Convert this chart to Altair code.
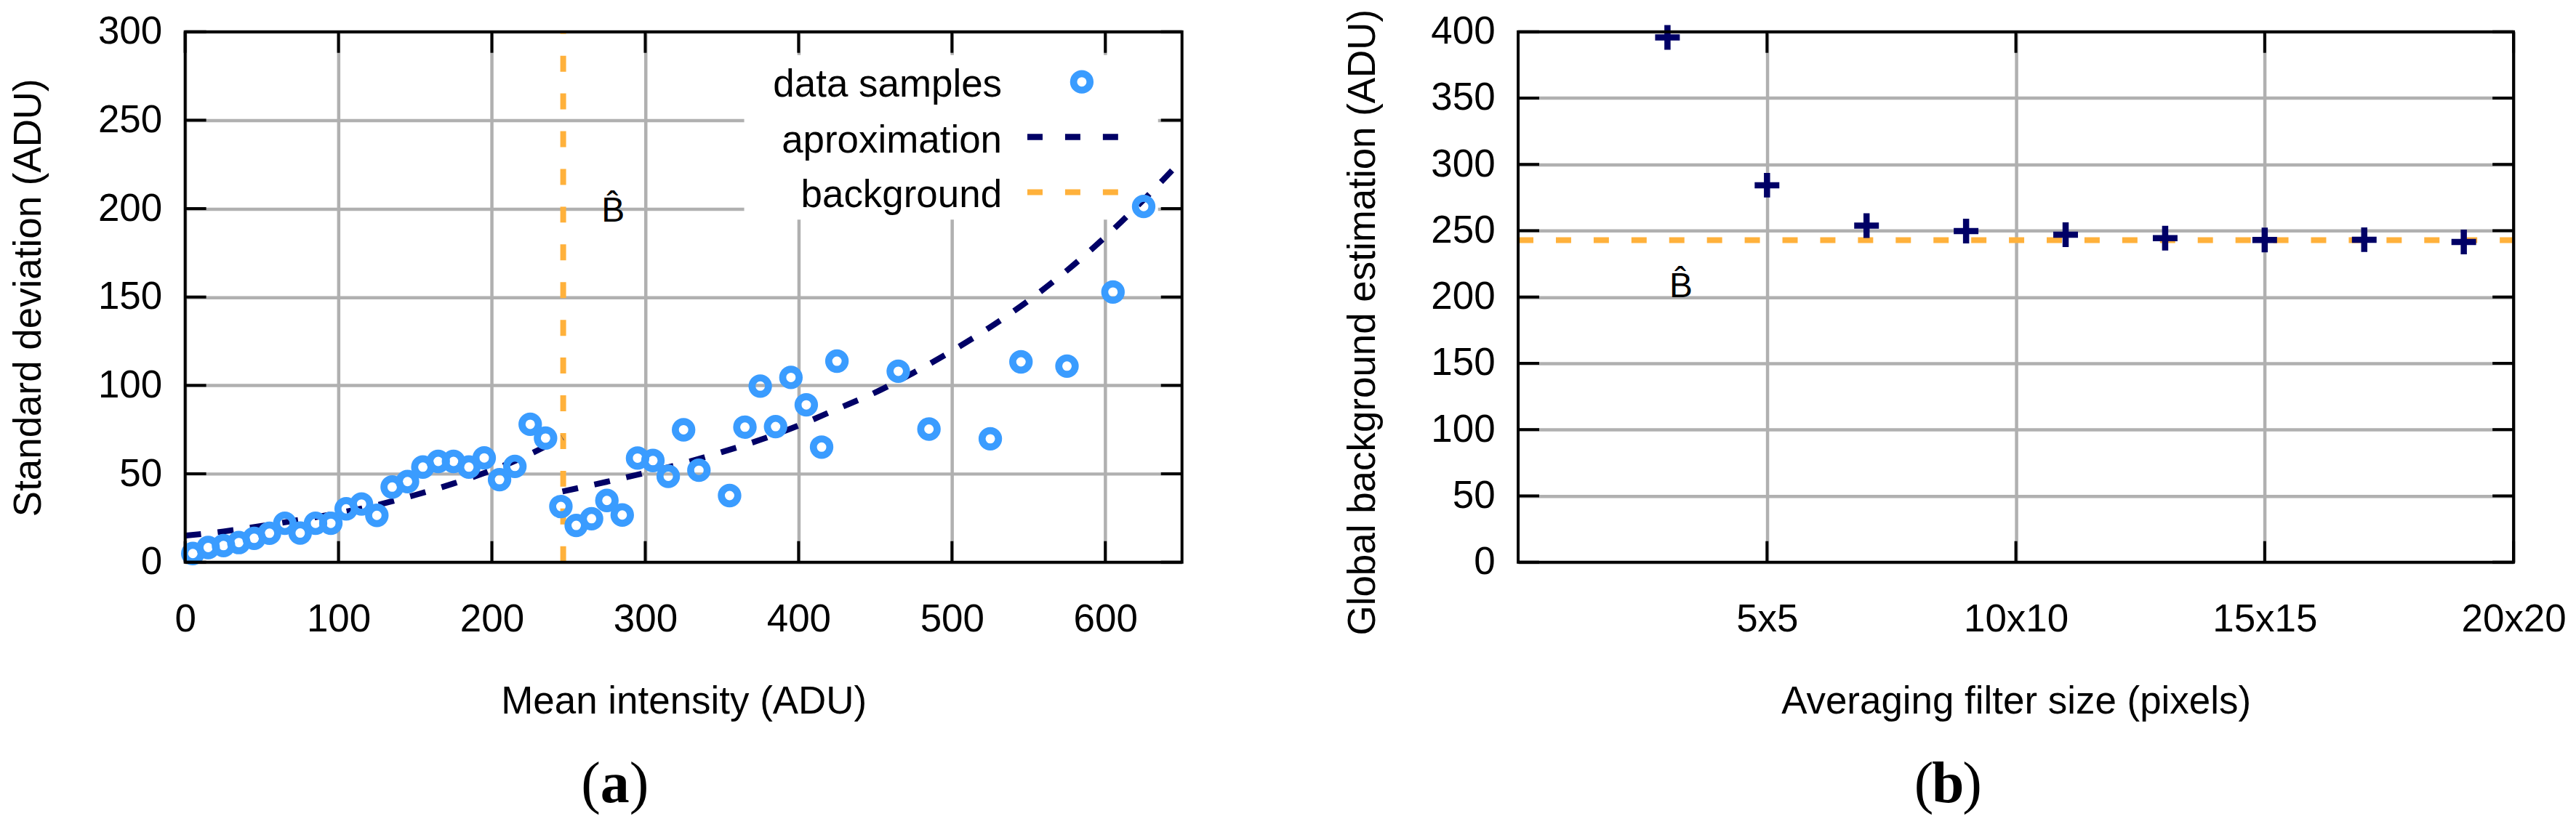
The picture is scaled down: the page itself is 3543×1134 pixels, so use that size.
import altair as alt
import pandas as pd

FONT = "Liberation Sans"
SERIF = "Liberation Serif"
NAVY = "#000066"
BLUE = "#3a9cff"
ORANGE = "#ffb13b"
GRID = "#b0b0b0"
FS = 53

# ---------------- panel (a) data ----------------
mean_intensity = [5, 15, 25, 35, 45, 55, 65, 75, 85, 95, 105, 115, 125, 135, 145, 155,
                  165, 175, 185, 195, 205, 215, 225, 235, 245, 255, 265, 275, 285, 295,
                  305, 315, 325, 335, 355, 365, 375, 385, 395, 405, 415, 425, 465, 485,
                  525, 545, 575, 605, 625]
std_dev = [4.9, 8.3, 9.4, 11.1, 13.5, 16.4, 22.0, 16.5, 22.0, 22.0, 30.2, 32.9, 26.5, 42.5,
           45.6, 53.8, 57.0, 57.0, 53.8, 59.0, 46.7, 54.2, 78.0, 70.2, 31.5, 20.8, 24.6, 34.9,
           26.7, 58.9, 57.5, 48.6, 74.9, 52.0, 37.7, 76.4, 99.6, 76.7, 104.5, 89.0, 65.1,
           113.7, 108.0, 75.3, 69.8, 113.3, 110.9, 152.8, 201.2]
approx_low_x = [0, 25, 50, 75, 100, 125, 150, 175, 200, 225, 246]
approx_low_y = [15.0, 17.4, 20.5, 24.0, 27.8, 32.3, 38.0, 44.5, 52.0, 61.2, 70.5]
approx_high_x = [246, 275, 300, 325, 350, 375, 400, 425, 450, 475, 500, 525, 550, 575, 600, 625, 650]
approx_high_y = [40.0, 45.5, 50.5, 56.0, 62.3, 69.2, 77.3, 86.6, 96.0, 107.2, 119.5, 133.0,
                 148.0, 165.0, 184.0, 205.0, 227.5]
background_a = 246.5
a_x_ticks = [0, 100, 200, 300, 400, 500, 600]
a_y_ticks = [0, 50, 100, 150, 200, 250, 300]
legend_labels = ["data samples", "aproximation", "background"]
bhat_label = "B\u0302"
bhat_a_x, bhat_a_y = 279, 192.6

# ---------------- panel (b) data ----------------
filter_size = [3, 5, 7, 9, 11, 13, 15, 17, 19]
bg_estimate = [395.7, 284.3, 253.8, 249.7, 247.0, 244.4, 243.0, 243.2, 241.5]
background_b = 242.9
b_x_ticks = [5, 10, 15, 20]
b_y_ticks = [0, 50, 100, 150, 200, 250, 300, 350, 400]
bhat_b_x, bhat_b_y = 3.27, 199.7
panel_letters = ["a", "b"]

W_A, W_B, H = 1373, 1371, 731
TICK = 29
dummy = pd.DataFrame({"k": [0]})


def x_axis(values, title, width, label_expr=None):
    kw = dict(values=values, title=title, grid=True, gridColor=GRID, gridWidth=4.5,
              domain=False, ticks=False, tickSize=0, labelFont=FONT, labelFontSize=FS,
              labelColor="black", labelPadding=79, labelBaseline="middle",
              labelFlush=False, labelOverlap=False, titleFont=FONT, titleFontSize=FS,
              titleFontWeight="normal", titleColor="black", titleX=width / 2, titleY=208,
              titleAlign="center", titleBaseline="alphabetic")
    if label_expr:
        kw["labelExpr"] = label_expr
    return alt.Axis(**kw)


def y_axis(values, title, title_x, title_y):
    return alt.Axis(values=values, title=title, grid=True, gridColor=GRID, gridWidth=4.5,
                    domain=False, ticks=False, tickSize=0, labelFont=FONT, labelFontSize=FS,
                    labelColor="black", labelPadding=32, labelFlush=False, labelOverlap=False,
                    titleFont=FONT, titleFontSize=FS, titleFontWeight="normal",
                    titleColor="black", titleAngle=270, titleX=title_x, titleY=title_y,
                    titleAlign="center", titleBaseline="middle")


def frame_layers(xvals, yvals, xs, ys, W, xax, yax):
    dfx = pd.DataFrame({"t": xvals})
    dfy = pd.DataFrame({"t": yvals})
    rule = dict(color="black", strokeWidth=4)
    border = alt.Chart(dummy).mark_rect(fillOpacity=0, stroke="black", strokeWidth=4).encode(
        x=alt.value(0), x2=alt.value(W), y=alt.value(0), y2=alt.value(H))
    bottom = alt.Chart(dfx).mark_rule(**rule).encode(
        x=alt.X("t:Q", scale=xs, axis=xax), y=alt.value(H), y2=alt.value(H - TICK))
    top = alt.Chart(dfx).mark_rule(**rule).encode(
        x=alt.X("t:Q", scale=xs, axis=xax), y=alt.value(0), y2=alt.value(TICK))
    left = alt.Chart(dfy).mark_rule(**rule).encode(
        y=alt.Y("t:Q", scale=ys, axis=yax), x=alt.value(0), x2=alt.value(TICK))
    right = alt.Chart(dfy).mark_rule(**rule).encode(
        y=alt.Y("t:Q", scale=ys, axis=yax), x=alt.value(W - TICK), x2=alt.value(W))
    return [border, bottom, top, left, right]


def panel_letter(letter):
    cx, base = 592, 1062
    common = dict(fontSize=80, font=SERIF, color="black", baseline="alphabetic")
    lp = alt.Chart(dummy).mark_text(align="right", **common).encode(
        x=alt.value(cx - 20), y=alt.value(base), text=alt.value("("))
    mid = alt.Chart(dummy).mark_text(align="center", fontWeight="bold", **common).encode(
        x=alt.value(cx), y=alt.value(base), text=alt.value(letter))
    rp = alt.Chart(dummy).mark_text(align="left", **common).encode(
        x=alt.value(cx + 20), y=alt.value(base), text=alt.value(")"))
    return [lp, mid, rp]


# ---------------- panel (a) ----------------
xs_a = alt.Scale(domain=[0, 650], nice=False, zero=False)
ys_a = alt.Scale(domain=[0, 300], nice=False, zero=False)
xax_a = x_axis(a_x_ticks, "Mean intensity (ADU)", W_A)
yax_a = y_axis(a_y_ticks, "Standard deviation (ADU)", -215, 366)

df_pts = pd.DataFrame({"intensity": mean_intensity, "sd": std_dev})
df_low = pd.DataFrame({"intensity": approx_low_x, "sd": approx_low_y})
df_high = pd.DataFrame({"intensity": approx_high_x, "sd": approx_high_y})

legend_box = alt.Chart(dummy).mark_rect(fill="white").encode(
    x=alt.value(770), x2=alt.value(1340), y=alt.value(32), y2=alt.value(259))

bg_rule_a = alt.Chart(pd.DataFrame({"intensity": [background_a]})).mark_rule(
    color=ORANGE, strokeWidth=8, strokeDash=[22, 30]).encode(
    x=alt.X("intensity:Q", scale=xs_a, axis=xax_a), y=alt.value(H), y2=alt.value(0))

curve_kw = dict(color=NAVY, strokeWidth=8, strokeDash=[22, 23], interpolate="monotone", clip=True)
curve_low = alt.Chart(df_low).mark_line(**curve_kw).encode(
    x=alt.X("intensity:Q", scale=xs_a, axis=xax_a), y=alt.Y("sd:Q", scale=ys_a, axis=yax_a))
curve_high = alt.Chart(df_high).mark_line(**curve_kw).encode(
    x=alt.X("intensity:Q", scale=xs_a, axis=xax_a), y=alt.Y("sd:Q", scale=ys_a, axis=yax_a))

points_a = alt.Chart(df_pts).mark_point(
    shape="circle", filled=False, color=BLUE, strokeWidth=9.7, size=515, opacity=1).encode(
    x=alt.X("intensity:Q", scale=xs_a, axis=xax_a),
    y=alt.Y("sd:Q", scale=ys_a, axis=yax_a))

leg_text_kw = dict(align="right", baseline="alphabetic", fontSize=FS, font=FONT, color="black")
leg_t1 = alt.Chart(dummy).mark_text(**leg_text_kw).encode(
    x=alt.value(1125), y=alt.value(89), text=alt.value(legend_labels[0]))
leg_t2 = alt.Chart(dummy).mark_text(**leg_text_kw).encode(
    x=alt.value(1125), y=alt.value(166), text=alt.value(legend_labels[1]))
leg_t3 = alt.Chart(dummy).mark_text(**leg_text_kw).encode(
    x=alt.value(1125), y=alt.value(242), text=alt.value(legend_labels[2]))
leg_s1 = alt.Chart(dummy).mark_point(
    shape="circle", filled=False, color=BLUE, strokeWidth=9.7, size=515, opacity=1).encode(
    x=alt.value(1235), y=alt.value(69))
leg_s2 = alt.Chart(dummy).mark_rule(color=NAVY, strokeWidth=8.5, strokeDash=[21, 31]).encode(
    x=alt.value(1160), x2=alt.value(1285), y=alt.value(145))
leg_s3 = alt.Chart(dummy).mark_rule(color=ORANGE, strokeWidth=8, strokeDash=[21, 31]).encode(
    x=alt.value(1160), x2=alt.value(1285), y=alt.value(221))

bhat_a = alt.Chart(pd.DataFrame({"intensity": [bhat_a_x], "sd": [bhat_a_y], "label": [bhat_label]})).mark_text(
    fontSize=48, font=FONT, color="black", align="center", baseline="alphabetic").encode(
    x=alt.X("intensity:Q", scale=xs_a, axis=xax_a), y=alt.Y("sd:Q", scale=ys_a, axis=yax_a),
    text="label:N")

chart_a = alt.layer(
    legend_box, bg_rule_a, curve_low, curve_high, points_a,
    leg_t1, leg_t2, leg_t3, leg_s1, leg_s2, leg_s3, bhat_a,
    *frame_layers(a_x_ticks, a_y_ticks, xs_a, ys_a, W_A, xax_a, yax_a),
    *panel_letter(panel_letters[0]),
).properties(width=W_A, height=H)

# ---------------- panel (b) ----------------
xs_b = alt.Scale(domain=[0, 20], nice=False, zero=False)
ys_b = alt.Scale(domain=[0, 400], nice=False, zero=False)
xax_b = x_axis(b_x_ticks, "Averaging filter size (pixels)", W_B, "datum.value + 'x' + datum.value")
yax_b = y_axis(b_y_ticks, "Global background estimation (ADU)", -214, 400)

df_b = pd.DataFrame({"size": filter_size, "est": bg_estimate})

bg_rule_b = alt.Chart(pd.DataFrame({"est": [background_b]})).mark_rule(
    color=ORANGE, strokeWidth=8, strokeDash=[21, 31]).encode(
    y=alt.Y("est:Q", scale=ys_b, axis=yax_b), x=alt.value(0), x2=alt.value(W_B))

points_b = alt.Chart(df_b).mark_point(
    shape="M-1,0L1,0M0,-1L0,1", filled=False, color=NAVY, strokeWidth=8.5, size=1156,
    opacity=1).encode(
    x=alt.X("size:Q", scale=xs_b, axis=xax_b),
    y=alt.Y("est:Q", scale=ys_b, axis=yax_b))

bhat_b = alt.Chart(pd.DataFrame({"size": [bhat_b_x], "est": [bhat_b_y], "label": [bhat_label]})).mark_text(
    fontSize=48, font=FONT, color="black", align="center", baseline="alphabetic").encode(
    x=alt.X("size:Q", scale=xs_b, axis=xax_b), y=alt.Y("est:Q", scale=ys_b, axis=yax_b),
    text="label:N")

chart_b = alt.layer(
    bg_rule_b, points_b, bhat_b,
    *frame_layers(b_x_ticks, b_y_ticks, xs_b, ys_b, W_B, xax_b, yax_b),
    *panel_letter(panel_letters[1]),
).properties(width=W_B, height=H)

chart = alt.hconcat(chart_a, chart_b, spacing=219).properties(
    padding={"left": 5, "top": 2, "right": 5, "bottom": 2}
).configure(font=FONT, background="white").configure_view(stroke="transparent")

chart.save("out.html", embed_options={"renderer": "svg", "actions": False})
